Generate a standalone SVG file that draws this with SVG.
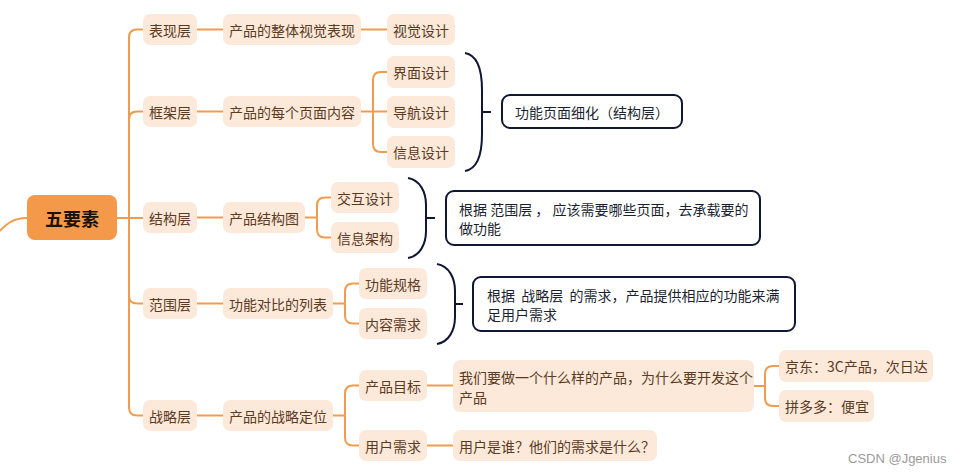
<svg xmlns="http://www.w3.org/2000/svg" width="961" height="475" viewBox="0 0 961 475">
<style>
.n rect{fill:#FDE9DA;}
.n text{font-family:"Noto Sans CJK SC","Noto Sans",sans-serif;font-size:14px;fill:#5B3A1E;dominant-baseline:central;text-anchor:middle;}
.n text.l{text-anchor:start;}
.c path{fill:none;stroke:#F39B4C;stroke-width:2;}
.b path{fill:none;stroke:#111733;stroke-width:2;}
.s rect{fill:#fff;stroke:#111733;stroke-width:2;}
.s text{font-family:"Noto Sans CJK SC","Noto Sans",sans-serif;font-size:14px;fill:#1c1f30;dominant-baseline:central;white-space:pre;}
</style>
<rect width="961" height="475" fill="#fff"/>
<g class="c" id="connectors">
<path d="M-10 242 C 6 222 14 218 27 218"/>
<path d="M117 218 H143"/>
<path d="M129 218 V37.5 Q129 29.5 137 29.5 H143"/>
<path d="M129 218 V119.5 Q129 111.5 137 111.5 H143"/>
<path d="M129 218 V295.5 Q129 303.5 137 303.5 H143"/>
<path d="M129 218 V407.5 Q129 415.5 137 415.5 H143"/>
<path d="M197 29.5 H223"/>
<path d="M197 111.5 H223"/>
<path d="M197 217.5 H223"/>
<path d="M197 303.5 H223"/>
<path d="M197 415.5 H223"/>
<path d="M361 29.5 H387"/>
<path d="M361 111.5 H387"/>
<path d="M373 111.5 V80 Q373 72 381 72 H387"/>
<path d="M373 111.5 V144 Q373 152 381 152 H387"/>
<path d="M305 217.5 H317"/>
<path d="M317 217.5 V205.5 Q317 197.5 325 197.5 H331"/>
<path d="M317 217.5 V229.5 Q317 237.5 325 237.5 H331"/>
<path d="M333 303.5 H345"/>
<path d="M345 303.5 V291.5 Q345 283.5 353 283.5 H359"/>
<path d="M345 303.5 V315.5 Q345 323.5 353 323.5 H359"/>
<path d="M333 415.5 H345"/>
<path d="M345 415.5 V393.5 Q345 385.5 353 385.5 H359"/>
<path d="M345 415.5 V437.5 Q345 445.5 353 445.5 H359"/>
<path d="M427 385.5 H453"/>
<path d="M427 445.5 H453"/>
<path d="M754 386 H765"/>
<path d="M765 386 V374 Q765 366 773 366 H779"/>
<path d="M765 386 V398 Q765 406 773 406 H779"/>
</g>
<g class="b" id="braces">
<path d="M465 53 C477 55 482 70 482 90 L482 134 C482 154 477 169 465 171 M482 112 H491"/>
<path d="M408 178 C420 180 426 192 426 205 L426 231 C426 244 420 256 408 258 M426 218 H435"/>
<path d="M437 264 C449 266 455 278 455 291 L455 317 C455 330 449 342 437 344 M455 304 H463"/>
</g>
<g id="root">
<rect x="27" y="195" width="90" height="45" rx="8" fill="#F4994A"/>
<text x="72" y="218" font-family="Noto Sans CJK SC,sans-serif" font-size="18" font-weight="bold" fill="#1a1208" text-anchor="middle" dominant-baseline="central">五要素</text>
</g>
<g class="n" id="n-biaoxian"><rect x="143" y="14" width="54" height="31" rx="7"/><text x="170" y="29.5">表现层</text></g>
<g class="n" id="n-kuangjia"><rect x="143" y="96" width="54" height="31" rx="7"/><text x="170" y="111.5">框架层</text></g>
<g class="n" id="n-jiegou"><rect x="143" y="202" width="54" height="31" rx="7"/><text x="170" y="217.5">结构层</text></g>
<g class="n" id="n-fanwei"><rect x="143" y="288" width="54" height="31" rx="7"/><text x="170" y="303.5">范围层</text></g>
<g class="n" id="n-zhanlue"><rect x="143" y="400" width="54" height="31" rx="7"/><text x="170" y="415.5">战略层</text></g>
<g class="n" id="n-shijuebiaoxian"><rect x="223" y="14" width="138" height="31" rx="7"/><text x="292" y="29.5">产品的整体视觉表现</text></g>
<g class="n" id="n-yemianneirong"><rect x="223" y="96" width="138" height="31" rx="7"/><text x="292" y="111.5">产品的每个页面内容</text></g>
<g class="n" id="n-jiegoutu"><rect x="223" y="202" width="82" height="31" rx="7"/><text x="264" y="217.5">产品结构图</text></g>
<g class="n" id="n-liebiao"><rect x="223" y="288" width="110" height="31" rx="7"/><text x="278" y="303.5">功能对比的列表</text></g>
<g class="n" id="n-dingwei"><rect x="223" y="400" width="110" height="31" rx="7"/><text x="278" y="415.5">产品的战略定位</text></g>
<g class="n" id="n-shijuesheji"><rect x="387" y="14" width="68" height="31" rx="7"/><text x="421" y="29.5">视觉设计</text></g>
<g class="n" id="n-jiemian"><rect x="387" y="56" width="68" height="32" rx="7"/><text x="421" y="72">界面设计</text></g>
<g class="n" id="n-daohang"><rect x="387" y="96" width="68" height="32" rx="7"/><text x="421" y="112">导航设计</text></g>
<g class="n" id="n-xinxisheji"><rect x="387" y="136" width="68" height="32" rx="7"/><text x="421" y="152">信息设计</text></g>
<g class="n" id="n-jiaohu"><rect x="331" y="182" width="68" height="31" rx="7"/><text x="365" y="197.5">交互设计</text></g>
<g class="n" id="n-jiagou"><rect x="331" y="222" width="68" height="31" rx="7"/><text x="365" y="237.5">信息架构</text></g>
<g class="n" id="n-guige"><rect x="359" y="268" width="68" height="31" rx="7"/><text x="393" y="283.5">功能规格</text></g>
<g class="n" id="n-neirong"><rect x="359" y="308" width="68" height="31" rx="7"/><text x="393" y="323.5">内容需求</text></g>
<g class="n" id="n-mubiao"><rect x="359" y="370" width="68" height="31" rx="7"/><text x="393" y="385.5">产品目标</text></g>
<g class="n" id="n-xuqiu"><rect x="359" y="430" width="68" height="31" rx="7"/><text x="393" y="445.5">用户需求</text></g>
<g class="n" id="n-women"><rect x="453" y="360" width="301" height="52" rx="7"/><text class="l" x="459" y="377">我们要做一个什么样的产品，为什么要开发这个</text><text class="l" x="459" y="397">产品</text></g>
<g class="n" id="n-yonghu"><rect x="453" y="430" width="204" height="31" rx="7"/><text class="l" x="459" y="445.5">用户是谁？他们的需求是什么？</text></g>
<g class="n" id="n-jingdong"><rect x="779" y="350" width="154" height="32" rx="7"/><text class="l" x="785" y="366">京东：3C产品，次日达</text></g>
<g class="n" id="n-pdd"><rect x="779" y="390" width="95" height="32" rx="7"/><text class="l" x="785" y="406">拼多多：便宜</text></g>
<g class="s" id="s1"><rect x="502" y="95" width="180" height="33" rx="8"/><text x="515" y="111.5">功能页面细化（结构层）</text></g>
<g class="s" id="s2"><rect x="446" y="191" width="314" height="54" rx="8"/><text x="459" y="209">根据 范围层 ， 应该需要哪些页面，去承载要的</text><text x="459" y="228">做功能</text></g>
<g class="s" id="s3"><rect x="473" y="277" width="322" height="54" rx="8"/><text x="487" y="295">根据  战略层  的需求，产品提供相应的功能来满</text><text x="487" y="314">足用户需求</text></g>
<text x="848" y="463" font-family="Liberation Sans,Arial,sans-serif" font-size="13" fill="#9a9a9a">CSDN @Jgenius</text>
</svg>
